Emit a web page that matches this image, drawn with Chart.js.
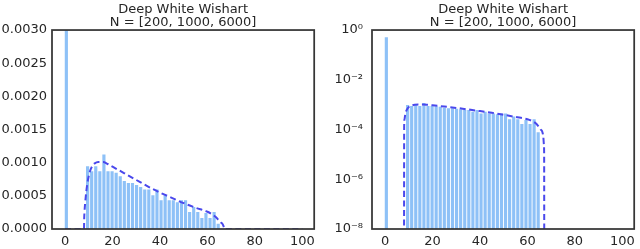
<!DOCTYPE html>
<html>
<head>
<meta charset="utf-8">
<script src="https://cdn.jsdelivr.net/npm/chart.js@4.4.1/dist/chart.umd.min.js"></script>
<style>
    body { margin: 0; background: #fff; }
    .row { position: relative; display: flex; width: 640px; height: 249px; }
    canvas { display: block; }
    #frames { position: absolute; left: 0; top: 0; z-index: 10; pointer-events: none; }
</style>
</head>
<body>
<div class="row" id="row">
    <canvas id="linear-chart" width="320" height="249"></canvas>
    <canvas id="log-chart" width="320" height="249"></canvas>
    <svg id="frames" width="640" height="249" xmlns="http://www.w3.org/2000/svg"></svg>
</div>
<script>
// histogram of eigenvalues (bin centres and densities) plus the theoretical density
const binCenters = [0.55, 9.5, 11.22, 12.94, 14.66, 16.38, 18.10, 19.82, 21.54, 23.26, 24.98,
    26.70, 28.42, 30.14, 31.86, 33.58, 35.30, 37.02, 38.74, 40.46, 42.18, 43.90, 45.62,
    47.34, 49.06, 50.78, 52.50, 54.22, 55.94, 57.66, 59.38, 61.10, 62.82, 64.54];
const binDensity = [0.5, 0.00094, 0.000865, 0.00094, 0.000865, 0.00112, 0.000865, 0.000865,
    0.000845, 0.00079, 0.00072, 0.00069, 0.00069, 0.00066, 0.00063, 0.00059, 0.00059,
    0.000503, 0.00059, 0.000428, 0.000503, 0.000428, 0.000428, 0.0004, 0.000428, 0.000428,
    0.000252, 0.000327, 0.000252, 0.000161, 0.000236, 0.000161, 0.000252, 0.000075];

const theoryX = [0, 8.0, 8.05, 8.2, 8.5, 9.0, 9.7, 10.5, 11.5, 12.5, 14, 16, 18, 20, 25, 30,
    35, 40, 45, 50, 55, 60, 62, 63.5, 64.8, 65.6, 66.3, 66.7, 66.95, 67.05, 67.1, 100];
const theoryY = [0, 0, 0.00013, 0.00026, 0.0004, 0.00058, 0.00075, 0.00087, 0.00095, 0.00099,
    0.00101, 0.00101, 0.00098, 0.00094, 0.00084, 0.00074, 0.00064, 0.00055, 0.00047, 0.00039,
    0.00032, 0.00026, 0.00022, 0.00018, 0.00013, 0.0001, 0.00008, 0.00005, 0.000025, 0.00001, 0, 0];

const xTicks = [0, 20, 40, 60, 80, 100];
const linearTicks = [0, 0.0005, 0.001, 0.0015, 0.002, 0.0025, 0.003];
const logTicks = [1e-8, 1e-6, 1e-4, 1e-2, 1];
const logTickLabels = ['10\u207B\u2078', '10\u207B\u2076', '10\u207B\u2074', '10\u207B\u00B2', '10\u2070'];

const titleLines = ['Deep White Wishart', 'N = [200, 1000, 6000]'];

const textColor = '#262626';
const frameColor = '#363636';
const barColor = '#8ec1f7';
const lineColor = '#4a48ec';
const tickFont = { family: 'DejaVu Sans', size: 13 };

// box around the plot area, drawn in an svg laid over both canvases
function addFrame(chart, offsetX) {
    const xs = chart.scales.x;
    const ys = chart.scales.y;
    const left = offsetX + xs.getPixelForValue(xs.min);
    const right = offsetX + xs.getPixelForValue(xs.max);
    const top = ys.top;
    const bottom = ys.bottom;
    const rect = document.createElementNS('http://www.w3.org/2000/svg', 'rect');
    rect.setAttribute('x', left);
    rect.setAttribute('y', top);
    rect.setAttribute('width', right - left);
    rect.setAttribute('height', bottom - top);
    rect.setAttribute('fill', 'none');
    rect.setAttribute('stroke', frameColor);
    rect.setAttribute('stroke-width', '1.75');
    document.getElementById('frames').appendChild(rect);
}

function makeChart(canvasId, yScale, zeroValue, offsetX) {
    const bars = binCenters.map((x, i) => ({ x: x, y: binDensity[i] }));
    // log axis cannot show 0, so zeros are pushed just below the axis floor
    const curve = theoryX.map((x, i) => ({ x: x, y: theoryY[i] === 0 ? zeroValue : theoryY[i] }));

    const chart = new Chart(document.getElementById(canvasId), {
        type: 'bar',
        data: {
            datasets: [{
                type: 'line',
                data: curve,
                borderColor: lineColor,
                borderWidth: 2,
                borderDash: [6, 3.5],
                pointRadius: 0,
                cubicInterpolationMode: 'monotone',
                fill: false,
                order: 0
            }, {
                type: 'bar',
                data: bars,
                backgroundColor: barColor,
                borderWidth: 0,
                barThickness: 2.5,
                order: 1
            }]
        },
        options: {
            responsive: false,
            animation: false,
            devicePixelRatio: 1,
            layout: { padding: { left: 0, right: 1, top: 0, bottom: 0 } },
            plugins: {
                legend: { display: false },
                tooltip: { enabled: false },
                title: {
                    display: true,
                    text: titleLines,
                    fullSize: false,
                    color: textColor,
                    font: { family: 'DejaVu Sans', size: 13, weight: 'normal', lineHeight: 1.04 },
                    padding: { top: 2.5, bottom: 0.5 }
                }
            },
            scales: {
                x: {
                    type: 'linear',
                    offset: false,
                    min: -5.5,
                    max: 105,
                    grid: { display: false, drawTicks: false },
                    border: { display: false },
                    afterBuildTicks: (scale) => { scale.ticks = xTicks.map(v => ({ value: v })); },
                    afterFit: (scale) => { scale.height = 20; },
                    ticks: {
                        color: textColor,
                        font: tickFont,
                        padding: 5,
                        maxRotation: 0,
                        callback: (v) => String(v)
                    }
                },
                y: yScale
            }
        }
    });
    addFrame(chart, offsetX);
    return chart;
}

makeChart('linear-chart', {
    type: 'linear',
    min: 0,
    max: 0.003,
    grid: { display: false, drawTicks: false },
    border: { display: false },
    afterBuildTicks: (scale) => { scale.ticks = linearTicks.map(v => ({ value: v })); },
    afterFit: (scale) => { scale.width = 52; },
    ticks: {
        color: textColor,
        font: tickFont,
        padding: 5,
        callback: (v) => v.toFixed(4)
    }
}, 0, 0);

makeChart('log-chart', {
    type: 'logarithmic',
    min: 1e-8,
    max: 1,
    grid: { display: false, drawTicks: false },
    border: { display: false },
    afterBuildTicks: (scale) => { scale.ticks = logTicks.map(v => ({ value: v })); },
    afterFit: (scale) => { scale.width = 52; },
    ticks: {
        color: textColor,
        font: tickFont,
        padding: 9,
        callback: (v) => {
            const i = logTicks.findIndex(t => Math.abs(Math.log10(t) - Math.log10(v)) < 1e-6);
            return i >= 0 ? logTickLabels[i] : '';
        }
    }
}, 1e-9, 320);
</script>
</body>
</html>
